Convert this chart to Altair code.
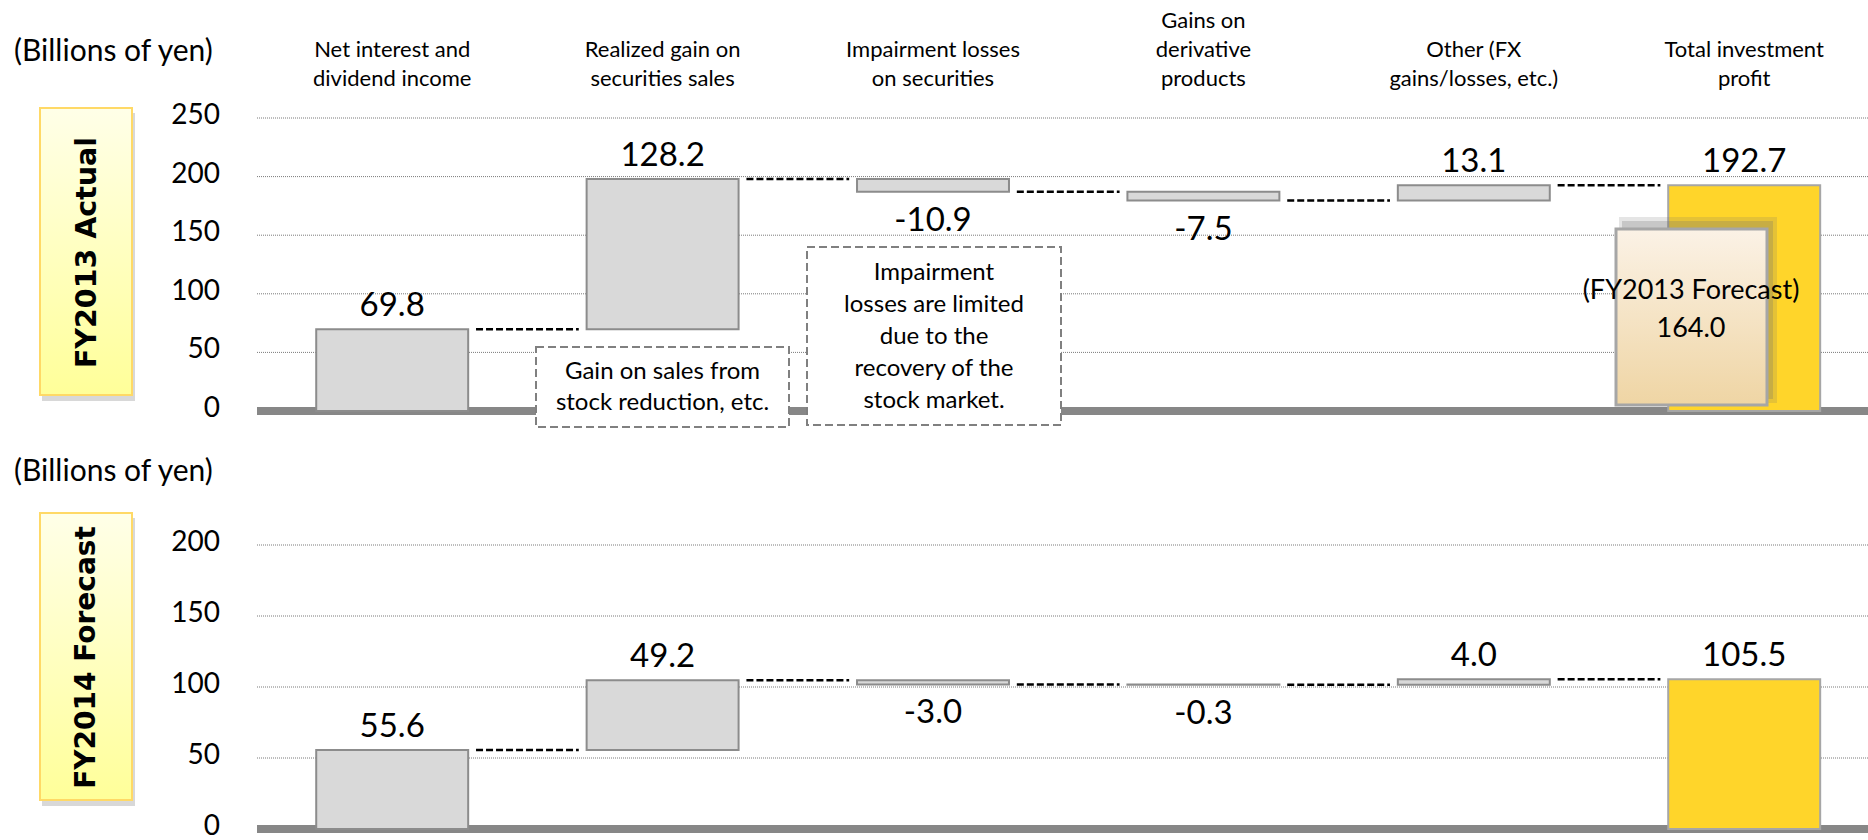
import altair as alt
import pandas as pd

# ---------------- data ----------------
CATEGORIES = [
    "Net interest and\ndividend income",
    "Realized gain on\nsecurities sales",
    "Impairment losses\non securities",
    "Gains on\nderivative\nproducts",
    "Other (FX\ngains/losses, etc.)",
    "Total investment\nprofit",
]
FY2013_ACTUAL = [69.8, 128.2, -10.9, -7.5, 13.1, 192.7]
FY2014_FORECAST = [55.6, 49.2, -3.0, -0.3, 4.0, 105.5]
FY2013_FORECAST_TOTAL = 164.0
TICKS_TOP = [0, 50, 100, 150, 200, 250]
TICKS_BOTTOM = [0, 50, 100, 150, 200]
UNIT_LABEL = "(Billions of yen)"
PANEL_TITLES = ["FY2013 Actual", "FY2014 Forecast"]
NOTE_GAIN = "Gain on sales from\nstock reduction, etc."
NOTE_IMPAIR = "Impairment\nlosses are limited\ndue to the\nrecovery of the\nstock market."
FORECAST_NOTE = "(FY2013 Forecast)"

FONT = "Lato, sans-serif"
BOLD_FONT = "DejaVu Sans, Verdana, sans-serif"

XS = alt.Scale(domain=[-0.5, 5.5], range=[257, 1879.4], nice=False, zero=False)
YS_TOP = alt.Scale(domain=[0, 250], range=[411, 118], nice=False, zero=False)
YS_BOT = alt.Scale(domain=[0, 200], range=[829, 545], nice=False, zero=False)


def waterfall(values):
    rows, run = [], 0.0
    last = len(values) - 1
    for i, v in enumerate(values):
        if i == last:
            lo, hi, end = 0.0, v, v
        else:
            a, b = run, run + v
            lo, hi, end = min(a, b), max(a, b), b
            run = b
        rows.append({"i": i, "v": v, "lo": lo, "hi": hi, "end": end,
                     "total": i == last, "neg": v < 0, "label": f"{v:.1f}"})
    return pd.DataFrame(rows)


def one():
    return alt.Data(values=[{"k": 1}])


def panel(values, ticks, ys):
    df = waterfall(values)
    tk = pd.DataFrame({"t": ticks, "s": [str(t) for t in ticks]})
    conn = df.iloc[:-1][["i", "end"]]
    Y = lambda f: alt.Y(f, scale=ys, axis=None)
    X = lambda f: alt.X(f, scale=XS, axis=None)
    grid = alt.Chart(tk).transform_filter("datum.t > 0").mark_rule(
        color="#7A7A7A", strokeWidth=1, strokeDash=[1, 1]
    ).encode(y=Y("t:Q"), x=alt.value(257), x2=alt.value(1868))
    base = alt.Chart(tk).transform_filter("datum.t == 0").mark_rule(
        color="#878787", strokeWidth=8
    ).encode(y=Y("t:Q"), x=alt.value(257), x2=alt.value(1868))
    ticklab = alt.Chart(tk).mark_text(
        align="right", baseline="middle", dy=-2, font=FONT, fontSize=28, color="black"
    ).encode(y=Y("t:Q"), x=alt.value(220), text="s:N")
    bars = alt.Chart(df).transform_calculate(
        xa="datum.i - 0.281", xb="datum.i + 0.281"
    ).mark_rect(strokeWidth=2).encode(
        x=X("xa:Q"), x2="xb:Q", y=Y("lo:Q"), y2="hi:Q",
        fill=alt.condition("datum.total", alt.value("#FFD52A"), alt.value("#D9D9D9")),
        stroke=alt.condition("datum.total", alt.value("#A6A6A6"), alt.value("#8C8C8C")),
    )
    conns = alt.Chart(conn).transform_calculate(
        xa="datum.i + 0.31", xb="datum.i + 0.69"
    ).mark_rule(color="black", strokeWidth=2.5, strokeDash=[7, 3]).encode(
        x=X("xa:Q"), x2="xb:Q", y=Y("end:Q")
    )
    pos = alt.Chart(df).transform_filter("!datum.neg").mark_text(
        baseline="bottom", dy=-6, font=FONT, fontSize=33, color="black"
    ).encode(x=X("i:Q"), y=Y("hi:Q"), text="label:N")
    neg = alt.Chart(df).transform_filter("datum.neg").mark_text(
        baseline="top", dy=13, font=FONT, fontSize=33, color="black"
    ).encode(x=X("i:Q"), y=Y("lo:Q"), text="label:N")
    return [grid, base, ticklab, bars, conns, pos, neg]


def side_box(y0, y1, title, size):
    grad = alt.Gradient(
        gradient="linear",
        stops=[alt.GradientStop(color="#FFFFE8", offset=0),
               alt.GradientStop(color="#FFFF99", offset=1)],
        x1=0, x2=0, y1=0, y2=1,
    )
    shadow = alt.Chart(one()).mark_rect(fill="#7F7F7F", opacity=0.3).encode(
        x=alt.value(42), x2=alt.value(135), y=alt.value(y0 + 5), y2=alt.value(y1 + 6))
    box = alt.Chart(one()).mark_rect(fill=grad, stroke="#FFD966", strokeWidth=2).encode(
        x=alt.value(40), x2=alt.value(132), y=alt.value(y0), y2=alt.value(y1))
    txt = alt.Chart(one()).mark_text(
        text=title, angle=270, font=BOLD_FONT, fontWeight="bold", fontSize=size,
        align="center", baseline="middle", color="black"
    ).encode(x=alt.value(87), y=alt.value((y0 + y1) / 2 + 1))
    return [shadow, box, txt]


def note_box(x0, x1, y0, y1, text, lh, first_y):
    box = alt.Chart(one()).mark_rect(
        fill="white", stroke="#808080", strokeWidth=2, strokeDash=[8, 4]
    ).encode(x=alt.value(x0), x2=alt.value(x1), y=alt.value(y0), y2=alt.value(y1))
    txt = alt.Chart(one()).mark_text(
        text=text, lineBreak="\n", lineHeight=lh, font=FONT, fontSize=24,
        align="center", baseline="middle", color="black"
    ).encode(x=alt.value((x0 + x1) / 2), y=alt.value(first_y))
    return [box, txt]


def plain_text(text, x, y, size, align="left"):
    return alt.Chart(one()).mark_text(
        text=text, font=FONT, fontSize=size, align=align, baseline="middle", color="black"
    ).encode(x=alt.value(x), y=alt.value(y))


hdr = pd.DataFrame({"i": range(len(CATEGORIES)), "c": CATEGORIES,
                    "n": [c.count("\n") + 1 for c in CATEGORIES]})


def header_layer(n_lines, first_y):
    return alt.Chart(hdr).transform_filter(f"datum.n == {n_lines}").mark_text(
        lineBreak="\n", lineHeight=29, baseline="middle", font=FONT, fontSize=22, color="black"
    ).encode(x=alt.X("i:Q", scale=XS, axis=None), y=alt.value(first_y), text="c:N")


# forecast callout on the top panel
fc_grad = alt.Gradient(
    gradient="linear",
    stops=[alt.GradientStop(color="#FBF2E6", offset=0),
           alt.GradientStop(color="#EFD5A4", offset=1)],
    x1=0, x2=0, y1=0, y2=1,
)
fc_shadow1 = alt.Chart(one()).mark_rect(fill="#6E6E6E", opacity=0.18).encode(
    x=alt.value(1619), x2=alt.value(1777), y=alt.value(217), y2=alt.value(403))
fc_shadow2 = alt.Chart(one()).mark_rect(fill="#6E6E6E", opacity=0.25).encode(
    x=alt.value(1622), x2=alt.value(1773), y=alt.value(221), y2=alt.value(399))
fc_box = alt.Chart(one()).mark_rect(fill=fc_grad, stroke="#A6A6A6", strokeWidth=3).encode(
    x=alt.value(1616), x2=alt.value(1767), y=alt.value(229), y2=alt.value(405))
fc_text = alt.Chart(one()).mark_text(
    text=f"{FORECAST_NOTE}\n{FY2013_FORECAST_TOTAL:.1f}", lineBreak="\n", lineHeight=38,
    font=FONT, fontSize=27, align="center", baseline="middle", color="black"
).encode(x=alt.value(1691), y=alt.value(291))

layers = []
layers += side_box(108, 395, PANEL_TITLES[0], 28.5)
layers += side_box(513, 800, PANEL_TITLES[1], 28)
layers += [plain_text(UNIT_LABEL, 14, 52, 30), plain_text(UNIT_LABEL, 14, 472, 30),
           header_layer(2, 50), header_layer(3, 21)]
layers += panel(FY2013_ACTUAL, TICKS_TOP, YS_TOP)
layers += panel(FY2014_FORECAST, TICKS_BOTTOM, YS_BOT)
layers += note_box(536, 789, 347, 427, NOTE_GAIN, 31, 372)
layers += note_box(807, 1061, 247, 425, NOTE_IMPAIR, 32, 273)
layers += [fc_shadow1, fc_shadow2, fc_box, fc_text]

chart = alt.layer(*layers).resolve_scale(y="independent").properties(
    width=1868, height=840, padding=0,
    autosize=alt.AutoSizeParams(type="none"),
    background="white",
).configure_view(strokeWidth=0)

chart.save("out.html", embed_options={"renderer": "svg", "actions": False})
